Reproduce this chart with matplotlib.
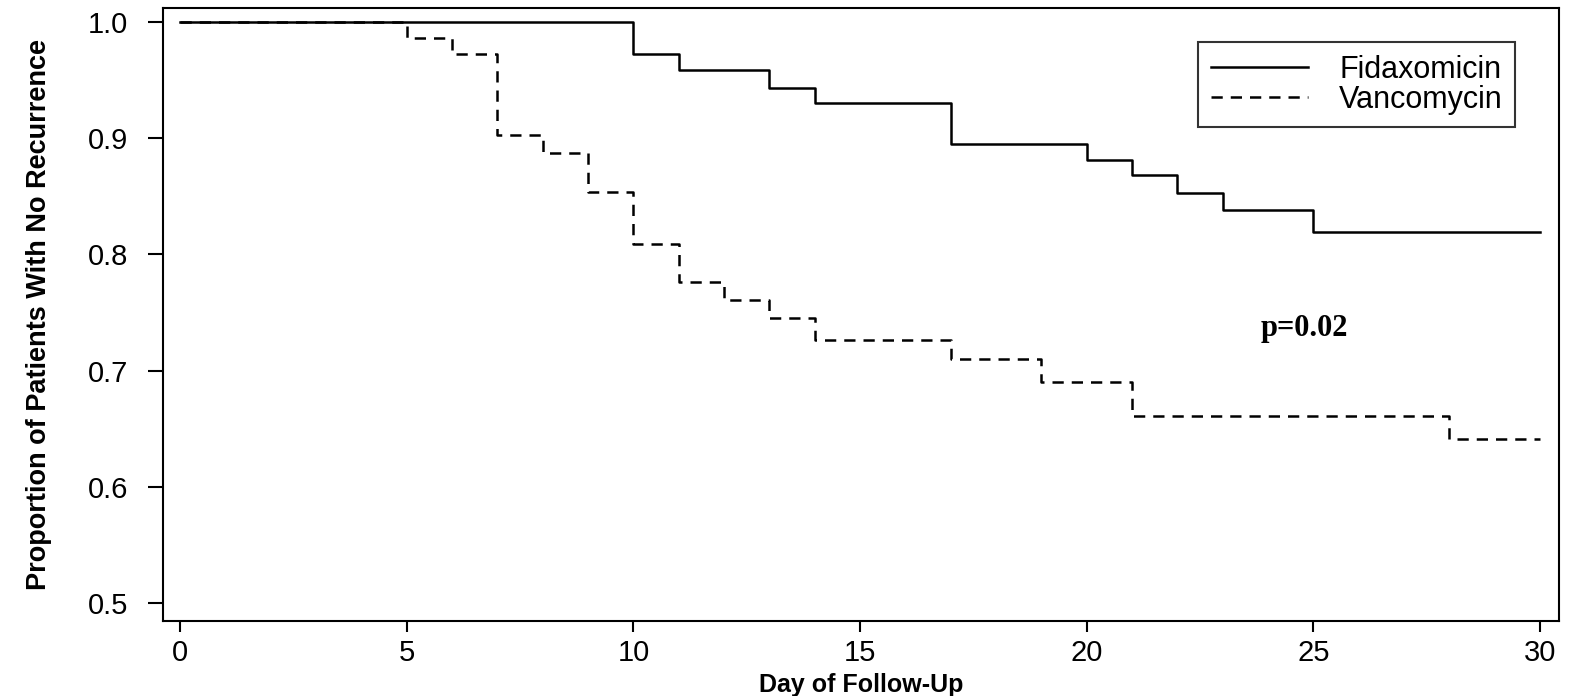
import matplotlib.pyplot as plt

# Kaplan-Meier step data
fidaxTimes = [0, 10, 11, 13, 14, 17, 20, 21, 22, 23, 25, 30]
fidaxSurv = [1.0, 0.972, 0.959, 0.943, 0.930, 0.895, 0.881, 0.868, 0.853, 0.838, 0.819, 0.819]

vancoTimes = [0, 5, 6, 7, 8, 9, 10, 11, 12, 13, 14, 17, 19, 21, 28, 30]
vancoSurv = [1.0, 0.986, 0.972, 0.903, 0.887, 0.854, 0.809, 0.776, 0.761, 0.745, 0.726, 0.710, 0.690, 0.661, 0.641, 0.641]

xTicks = [0, 5, 10, 15, 20, 25, 30]
yTicks = [0.5, 0.6, 0.7, 0.8, 0.9, 1.0]

plt.rcParams['font.family'] = ['Liberation Sans', 'DejaVu Sans']

fig = plt.figure(figsize=(15.73, 6.96), dpi=100)
ax = fig.add_axes([0.1036, 0.1078, 0.8875, 0.8807])

ax.step(fidaxTimes, fidaxSurv, where='post', color='black', linewidth=1.8, label='Fidaxomicin')
ax.step(vancoTimes, vancoSurv, where='post', color='black', linewidth=1.8,
        linestyle=(0, (4.5, 3.2)), label='Vancomycin')

ax.set_xlim(-0.38, 30.42)
ax.set_ylim(0.4845, 1.012)
ax.set_xticks(xTicks)
ax.set_xticklabels([str(t) for t in xTicks])
ax.set_yticks(yTicks)
ax.set_yticklabels(["{:.1f}".format(t) for t in yTicks])
ax.tick_params(axis='x', direction='out', length=8, width=1.5, labelsize=21, pad=5)
ax.tick_params(axis='y', direction='out', length=11, width=1.5, labelsize=21, pad=14)

for s in ax.spines.values():
    s.set_linewidth(1.5)

ax.set_xlabel('Day of Follow-Up', fontsize=18, fontweight='bold', labelpad=4)
ax.set_ylabel('Proportion of Patients With No Recurrence', fontsize=19.5, fontweight='bold',
              labelpad=26)

leg = ax.legend(loc='upper right', bbox_to_anchor=(0.9685, 0.944), fontsize=22,
                frameon=True, fancybox=False, handlelength=3.2, handletextpad=1.0,
                borderpad=0.4, labelspacing=0.0, borderaxespad=0)
leg.get_frame().set_edgecolor('black')
leg.get_frame().set_linewidth(1.5)

ax.text(24.8, 0.736, 'p=0.02', fontsize=22, fontweight='bold',
        family=['Liberation Serif', 'DejaVu Serif'], ha='center', va='center')

plt.savefig('out.png', dpi=100)
